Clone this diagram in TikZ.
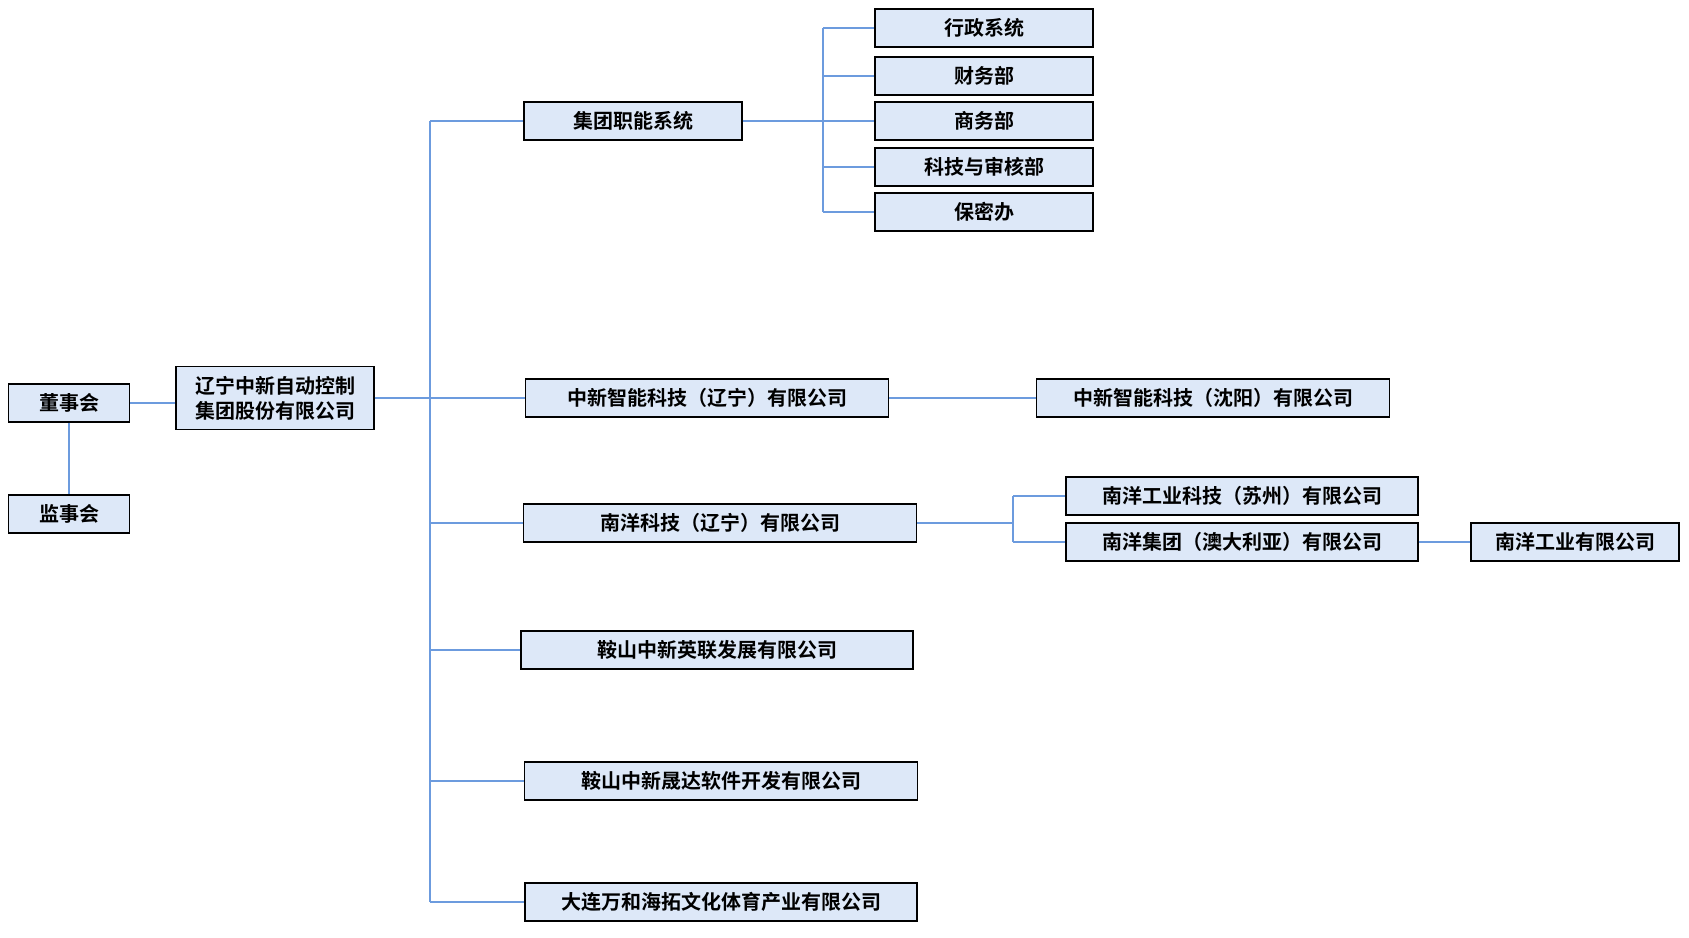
\documentclass[tikz,border=0pt]{standalone}
\usepackage{fontspec}
\usepackage{tikz}
\usetikzlibrary{positioning,calc}
\newfontfamily\cjk[BoldFont={* Bold}]{Noto Sans CJK SC}
\definecolor{BoxBlue}{RGB}{221,232,248}
\definecolor{LinkBlue}{RGB}{108,155,222}

\begin{document}
\begin{tikzpicture}[x=1pt, y=-1pt,
	unit/.style={draw=black, line width=1.3pt, fill=BoxBlue, inner sep=0pt, minimum height=38pt, font=\cjk\bfseries\fontsize{20}{25}\selectfont, align=center},
	link/.style={draw=LinkBlue, line width=1.3pt}]
		\useasboundingbox (0,0) rectangle (1689,937);
		
		% 董事会 / 监事会
		\node[unit, minimum width=121pt] (dsh) at (69,403) {董事会};
		\node[unit, minimum width=121pt] (jsh) at (69,514) {监事会};
		\node[unit, minimum width=198pt, minimum height=63pt] (root) at (275,398) {辽宁中新自动控制\\集团股份有限公司};
		
		% 下属单位
		\node[unit, minimum width=218pt] (jt) at (633,121) {集团职能系统};
		\node[unit, minimum width=363pt] (zxln) at (707,398) {中新智能科技（辽宁）有限公司};
		\node[unit, minimum width=393pt] (nyln) at (720,523) {南洋科技（辽宁）有限公司};
		\node[unit, minimum width=392pt] (asyl) at (717,650) {鞍山中新英联发展有限公司};
		\node[unit, minimum width=393pt] (assd) at (721,781) {鞍山中新晟达软件开发有限公司};
		\node[unit, minimum width=392pt] (dl) at (721,902) {大连万和海拓文化体育产业有限公司};
		
		% 职能部门
		\node[unit, minimum width=218pt] (xz) at (984,28) {行政系统};
		\node[unit, minimum width=218pt] (cw) at (984,76) {财务部};
		\node[unit, minimum width=218pt] (sw) at (984,121) {商务部};
		\node[unit, minimum width=218pt] (kj) at (984,167) {科技与审核部};
		\node[unit, minimum width=218pt] (bm) at (984,212) {保密办};
		
		% 孙公司
		\node[unit, minimum width=353pt] (zxsy) at (1213,398) {中新智能科技（沈阳）有限公司};
		\node[unit, minimum width=352pt] (nysz) at (1242,496) {南洋工业科技（苏州）有限公司};
		\node[unit, minimum width=352pt] (nyau) at (1242,542) {南洋集团（澳大利亚）有限公司};
		\node[unit, minimum width=208pt] (nygy) at (1575,542) {南洋工业有限公司};
		
		% 连线
		\coordinate (trunk) at (430,0);
		\coordinate (ft) at (823,0);
		\coordinate (nt) at (1013,0);
		\draw[link] (dsh.east) -- (dsh.east -| root.west);
		\draw[link] (dsh.south) -- (jsh.north);
		\draw[link] (root.east) -- (zxln.west);
		\draw[link] (trunk |- jt.west) -- (trunk |- dl.west);
		\foreach \c in {jt, nyln, asyl, assd, dl}
			\draw[link] (trunk |- \c.west) -- (\c.west);
		
		\draw[link] (jt.east) -- (sw.west);
		\draw[link] (ft |- xz.west) -- (ft |- bm.west);
		\foreach \c in {xz, cw, kj, bm}
			\draw[link] (ft |- \c.west) -- (\c.west);
		
		\draw[link] (zxln.east) -- (zxsy.west);
		\draw[link] (nyln.east) -- (nt |- nyln.east);
		\draw[link] (nt |- nysz.west) -- (nt |- nyau.west);
		\draw[link] (nt |- nysz.west) -- (nysz.west);
		\draw[link] (nt |- nyau.west) -- (nyau.west);
		\draw[link] (nyau.east) -- (nygy.west);
		
	\end{tikzpicture}
\end{document}
